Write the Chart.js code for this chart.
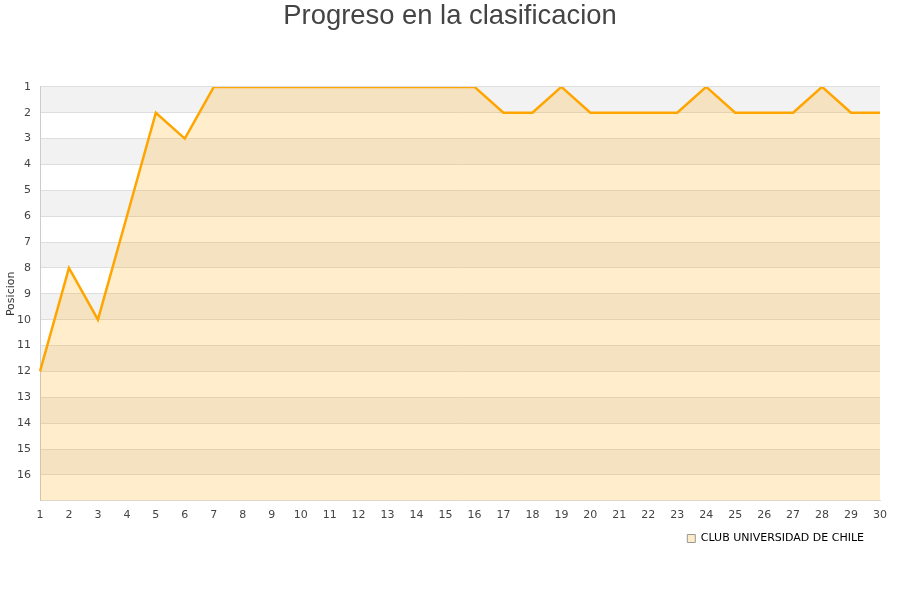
<!DOCTYPE html>
<html>
<head>
<meta charset="utf-8">
<script src="https://cdn.jsdelivr.net/npm/chart.js@4"></script>
<style>
  body { margin: 0; background: #fff; }
  #wrap { width: 900px; height: 600px; }
</style>
</head>
<body>
<div id="wrap"><canvas id="posChart" width="900" height="600"></canvas></div>
<script>
// jornadas y posiciones
const jornadas = ['1','2','3','4','5','6','7','8','9','10','11','12','13','14','15',
                  '16','17','18','19','20','21','22','23','24','25','26','27','28','29','30'];
const posiciones = [12, 8, 10, 6, 2, 3, 1, 1, 1, 1, 1, 1, 1, 1, 1,
                    1, 2, 2, 1, 2, 2, 2, 2, 1, 2, 2, 2, 1, 2, 2];
const equipo = 'CLUB UNIVERSIDAD DE CHILE';
const posMin = 1;
const posMax = 17;

// bandas grises alternas detras del grafico
const bandPlugin = {
    id: 'bands',
    beforeDraw(chart) {
        const { ctx, chartArea, scales } = chart;
        const y = scales.y;
        ctx.save();
        ctx.fillStyle = '#f2f2f2';
        for (let v = posMin; v < posMax; v += 2) {
            const top = y.getPixelForValue(v);
            const bot = y.getPixelForValue(v + 1);
            ctx.fillRect(chartArea.left, top, chartArea.right - chartArea.left, bot - top);
        }
        ctx.restore();
    }
};

// titulo centrado en todo el lienzo, leyenda un poco a la izquierda
const blockShift = {
    id: 'blockShift',
    afterLayout(chart) {
        if (chart.titleBlock) {
            chart.titleBlock.left = 0;
            chart.titleBlock.right = chart.width;
        }
        if (chart.legend) chart.legend.right -= 13;
    }
};

const ctx = document.getElementById('posChart').getContext('2d');
new Chart(ctx, {
    type: 'line',
    data: {
        labels: jornadas,
        datasets: [{
            label: equipo,
            data: posiciones,
            borderColor: '#ffa500',
            backgroundColor: 'rgba(255, 165, 0, 0.2)',
            borderWidth: 2.5,
            pointRadius: 0,
            tension: 0,
            fill: { value: posMax }
        }]
    },
    options: {
        responsive: false,
        animation: false,
        layout: { padding: { left: 5, right: 20, top: 0, bottom: 46 } },
        plugins: {
            title: {
                display: true,
                text: 'Progreso en la clasificacion',
                color: '#444',
                font: { family: 'Liberation Sans', size: 27.4, weight: 'normal' },
                padding: { top: 0, bottom: 54 }
            },
            legend: {
                position: 'bottom',
                align: 'end',
                labels: {
                    boxWidth: 8,
                    boxHeight: 8,
                    padding: 3,
                    color: '#222',
                    font: { family: 'DejaVu Sans', size: 11 },
                    generateLabels: () => [{
                        text: equipo,
                        fillStyle: '#fdebc8',
                        strokeStyle: '#999',
                        lineWidth: 1,
                        datasetIndex: 0
                    }]
                }
            },
            tooltip: { enabled: false }
        },
        scales: {
            x: {
                offset: false,
                grid: { display: false, drawTicks: false },
                border: { color: '#ddd' },
                ticks: {
                    color: '#444',
                    autoSkip: false,
                    maxRotation: 0,
                    padding: 8,
                    font: { family: 'DejaVu Sans', size: 11 }
                }
            },
            y: {
                reverse: true,
                min: posMin,
                max: posMax,
                afterFit: scale => { scale.width = 35; },
                title: {
                    display: true,
                    text: 'Posicion',
                    color: '#333',
                    font: { family: 'DejaVu Sans', size: 11 },
                    padding: 0
                },
                grid: { color: '#dedede', drawTicks: false, tickLength: 0 },
                border: { color: '#ccc' },
                ticks: {
                    stepSize: 1,
                    padding: 9,
                    color: '#444',
                    font: { family: 'DejaVu Sans', size: 11 },
                    callback: v => (v === posMax ? '' : v)
                }
            }
        }
    },
    plugins: [bandPlugin, blockShift]
});
</script>
</body>
</html>
